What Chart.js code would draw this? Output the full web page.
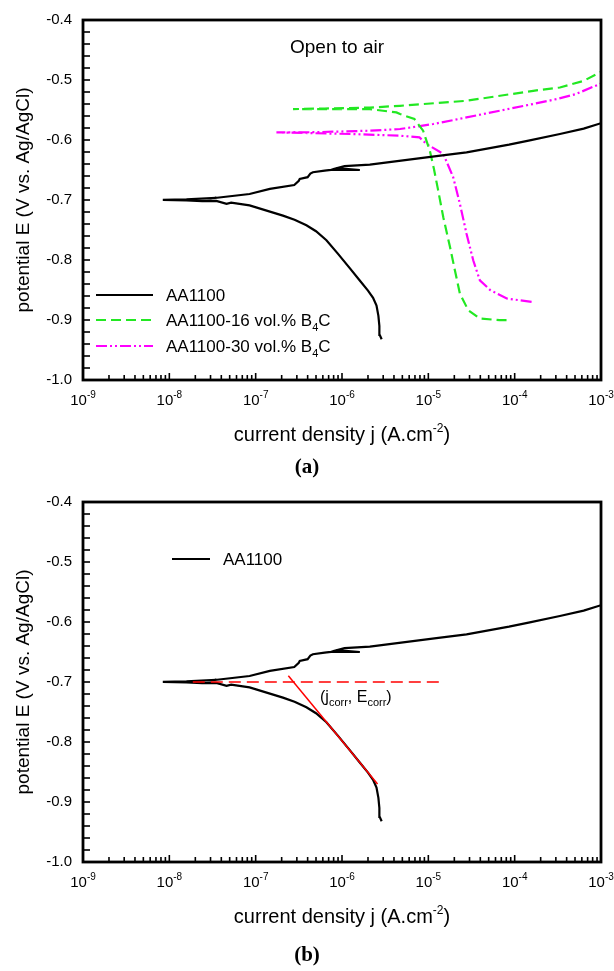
<!DOCTYPE html>
<html>
<head>
<meta charset="utf-8">
<script src="https://cdn.jsdelivr.net/npm/chart.js@4.4.1/dist/chart.umd.min.js"></script>
<style>
  html, body { margin: 0; padding: 0; background: #fff; }
  body { width: 614px; height: 971px; position: relative; overflow: hidden; }
  .panel { position: absolute; left: 0; width: 614px; height: 460px; }
  .caption {
    position: absolute; left: 0; width: 614px; text-align: center;
    font: bold 21px 'Liberation Serif', 'Times New Roman', serif; color: #000;
  }
</style>
</head>
<body>
<div class="panel" style="top:0"><canvas id="chartA" width="614" height="460"></canvas></div>
<div class="caption" style="top:454px">(a)</div>
<div class="panel" style="top:482px"><canvas id="chartB" width="614" height="460"></canvas></div>
<div class="caption" style="top:942px">(b)</div>
<script>
// current density j (A/cm2) and potential E (V vs Ag/AgCl)
// each curve: cathodic branch from its low end up to Ecorr, then the anodic branch
const aa1100J = [
  2.88e-6, 2.74e-6, 2.71e-6, 2.64e-6, 2.51e-6, 2.29e-6, 2.0e-6, 1.58e-6, 1.23e-6, 8.9e-7,
  6.6e-7, 5.0e-7, 3.87e-7, 2.82e-7, 2.07e-7, 8.5e-8, 5.2e-8, 4.6e-8, 3.5e-8, 2.4e-8,
  1.58e-8, 8.4e-9,
  1.58e-8, 3.5e-8, 3.0e-8, 8.5e-8, 1.46e-7, 2.8e-7, 3.16e-7, 3.24e-7, 4.0e-7, 4.3e-7,
  4.6e-7, 6.3e-7, 7.9e-7, 1.61e-6, 8.7e-7, 1.07e-6, 2.1e-6, 5.1e-6, 1.24e-5, 2.77e-5,
  8.6e-5, 1.45e-4, 3.34e-4, 6.3e-4, 1e-3,
]
const aa1100E = [
  -0.932, -0.925, -0.91, -0.893, -0.876, -0.863, -0.851, -0.833, -0.8135, -0.789,
  -0.767, -0.752, -0.742, -0.733, -0.726, -0.709, -0.7045, -0.7065, -0.7015, -0.702,
  -0.7005, -0.6997,
  -0.699, -0.6963, -0.6975, -0.69, -0.6814, -0.675, -0.668, -0.6648, -0.662, -0.656,
  -0.6538, -0.651, -0.6495, -0.65, -0.647, -0.6435, -0.641, -0.634, -0.627, -0.6205,
  -0.6078, -0.601, -0.59, -0.581, -0.572,
]

const b4c16J = [
  8.05e-5, 6.7e-5, 3.95e-5, 2.9e-5, 2.32e-5, 2.03e-5, 1.78e-5, 1.49e-5, 1.3e-5, 1.16e-5,
  1.04e-5, 9.5e-6, 8.7e-6, 6.9e-6, 4.7e-6, 4.27e-6, 2.1e-6, 2.71e-7,
  6.3e-7, 2.1e-6, 4.7e-6, 2.77e-5, 1.64e-4, 3.34e-4, 6.3e-4, 1e-3,
]
const b4c16E = [
  -0.9003, -0.9003, -0.8975, -0.8836, -0.856, -0.817, -0.778, -0.7286, -0.684, -0.648,
  -0.6177, -0.601, -0.5845, -0.565, -0.5568, -0.554, -0.5485, -0.5485,
  -0.5475, -0.546, -0.543, -0.5346, -0.518, -0.5125, -0.5014, -0.4864,
]

const b4c30J = [
  1.57e-4, 8.1e-5, 5.2e-5, 3.95e-5, 3.31e-5, 2.77e-5, 2.32e-5, 1.94e-5, 1.49e-5, 9.5e-6,
  7.9e-6, 4.7e-6, 1.26e-6, 1.74e-7,
  5.0e-7, 2.1e-6, 4.7e-6, 1.14e-5, 2.77e-5, 6.7e-5, 1.64e-4, 3.06e-4, 5.1e-4, 1e-3,
]
const b4c30E = [
  -0.8698, -0.8642, -0.85, -0.8338, -0.8005, -0.7562, -0.7063, -0.662, -0.6232, -0.6066,
  -0.5956, -0.5928, -0.59, -0.5873,
  -0.587, -0.5845, -0.5817, -0.5734, -0.5624, -0.5512, -0.54, -0.5318, -0.5235, -0.5058,
]

// Tafel construction in panel (b)
const ecorrLineJ = [1.87e-8, 1.4e-5]
const ecorrLineE = [-0.7, -0.7]
const tafelJ = [2.39e-7, 2.58e-6]
const tafelE = [-0.6897, -0.87]

const xTickExps = [-9, -8, -7, -6, -5, -4, -3]
const yTicks = [-1.0, -0.9, -0.8, -0.7, -0.6, -0.5, -0.4]

const FONT = "'Liberation Sans', Arial, sans-serif"

const toPoints = (js, es) => js.map((j, i) => ({ x: j, y: es[i] }))

function drawRich(ctx, parts, x, y, align = 'left') {
  let total = 0
  parts.forEach((p) => {
    ctx.font = `${p.size}px ${FONT}`
    p.w = ctx.measureText(p.text).width
    total += p.w
  })
  let cx = align === 'center' ? x - total / 2 : x
  ctx.textAlign = 'left'
  ctx.textBaseline = 'alphabetic'
  ctx.fillStyle = '#000'
  parts.forEach((p) => {
    ctx.font = `${p.size}px ${FONT}`
    ctx.fillText(p.text, cx, y + (p.dy || 0))
    cx += p.w
  })
}

function seg(ctx, x1, y1, x2, y2) {
  ctx.beginPath()
  ctx.moveTo(x1, y1)
  ctx.lineTo(x2, y2)
  ctx.stroke()
}

const framePlugin = {
  id: 'frame',
  afterDraw(chart) {
    const { ctx, chartArea: a, scales } = chart
    const x = scales.x
    const y = scales.y
    ctx.save()
    ctx.strokeStyle = '#000'
    ctx.setLineDash([])
    ctx.lineWidth = 1.6
    xTickExps.slice(0, -1).forEach((e) => {
      for (let m = 1; m < 10; m++) {
        const px = x.getPixelForValue(m * Math.pow(10, e))
        seg(ctx, px, a.bottom, px, a.bottom - (m === 1 ? 7 : 5))
      }
    })
    for (let i = 0; i <= 30; i++) {
      const py = y.getPixelForValue(-1 + i * 0.02)
      seg(ctx, a.left, py, a.left + 7, py)
    }
    ctx.lineWidth = 2.8
    ctx.strokeRect(a.left, a.top, a.right - a.left, a.bottom - a.top)

    xTickExps.forEach((e) => {
      const px = x.getPixelForValue(Math.pow(10, e))
      drawRich(ctx, [
        { text: '10', size: 15 },
        { text: String(e), size: 10, dy: -7 },
      ], px, a.bottom + 25, 'center')
    })
    drawRich(ctx, [
      { text: 'current density j (A.cm', size: 20 },
      { text: '-2', size: 12, dy: -9 },
      { text: ')', size: 20 },
    ], (a.left + a.right) / 2, a.bottom + 61, 'center')
    ctx.restore()
  },
}

function legendRow(ctx, ds, x1, x2, y, parts) {
  ctx.save()
  ctx.strokeStyle = ds.borderColor
  ctx.lineWidth = ds.borderWidth
  ctx.setLineDash(ds.borderDash || [])
  seg(ctx, x1, y, x2, y)
  ctx.restore()
  drawRich(ctx, parts, x2 + 13, y + 6)
}

const overlayA = {
  id: 'overlayA',
  afterDraw(chart) {
    const { ctx } = chart
    const ds = chart.data.datasets
    drawRich(ctx, [{ text: 'Open to air', size: 19 }], 337, 53, 'center')
    legendRow(ctx, ds[0], 96, 153, 295, [{ text: 'AA1100', size: 17 }])
    legendRow(ctx, ds[1], 96, 153, 320, [
      { text: 'AA1100-16 vol.% B', size: 17 },
      { text: '4', size: 11, dy: 5 },
      { text: 'C', size: 17 },
    ])
    legendRow(ctx, ds[2], 96, 153, 346, [
      { text: 'AA1100-30 vol.% B', size: 17 },
      { text: '4', size: 11, dy: 5 },
      { text: 'C', size: 17 },
    ])
  },
}

const overlayB = {
  id: 'overlayB',
  afterDraw(chart) {
    const { ctx } = chart
    legendRow(ctx, chart.data.datasets[0], 172, 210, 77, [{ text: 'AA1100', size: 17 }])
    drawRich(ctx, [
      { text: '(j', size: 16 },
      { text: 'corr', size: 11, dy: 4 },
      { text: ', E', size: 16 },
      { text: 'corr', size: 11, dy: 4 },
      { text: ')', size: 16 },
    ], 320, 220)
  },
}

const curve = (label, js, es, color, dash, width = 2.2, order = 0) => ({
  label,
  data: toPoints(js, es),
  showLine: true,
  borderColor: color,
  backgroundColor: color,
  borderWidth: width,
  borderDash: dash,
  pointRadius: 0,
  tension: 0,
  order,
})

function baseOptions() {
  return {
    responsive: false,
    animation: false,
    events: [],
    layout: { padding: { top: 19, right: 13, left: 0, bottom: 0 } },
    plugins: { legend: { display: false }, tooltip: { enabled: false } },
    scales: {
      x: {
        type: 'logarithmic',
        min: 1e-9,
        max: 1e-3,
        ticks: { display: false },
        grid: { display: false, drawTicks: false },
        border: { display: false },
        afterFit: (s) => { s.height = 80 },
      },
      y: {
        type: 'linear',
        min: -1.0,
        max: -0.4,
        afterBuildTicks: (s) => { s.ticks = yTicks.map((v) => ({ value: v })) },
        ticks: {
          color: '#000',
          font: { family: FONT, size: 15 },
          padding: 11,
          autoSkip: false,
          callback: (v) => Number(v).toFixed(1),
        },
        grid: { display: false, drawTicks: false },
        border: { display: false },
        title: {
          display: true,
          text: 'potential E (V vs. Ag/AgCl)',
          color: '#000',
          font: { family: FONT, size: 19 },
          padding: { top: 12, bottom: 0 },
        },
        afterFit: (s) => { s.width = 83 },
      },
    },
  }
}

new Chart(document.getElementById('chartA'), {
  type: 'scatter',
  data: {
    datasets: [
      curve('AA1100', aa1100J, aa1100E, '#000000', []),
      curve('AA1100-16 vol.% B4C', b4c16J, b4c16E, '#22e822', [10, 5]),
      curve('AA1100-30 vol.% B4C', b4c30J, b4c30E, '#ff00ff', [11, 3, 2, 3, 2, 3]),
    ],
  },
  options: baseOptions(),
  plugins: [framePlugin, overlayA],
})

// red construction lines sit on top of the black curve
new Chart(document.getElementById('chartB'), {
  type: 'scatter',
  data: {
    datasets: [
      curve('AA1100', aa1100J, aa1100E, '#000000', [], 2.2, 2),
      curve('Ecorr', ecorrLineJ, ecorrLineE, '#ff0000', [12, 6], 1.5, 1),
      curve('Tafel', tafelJ, tafelE, '#ff0000', [], 1.5, 0),
    ],
  },
  options: baseOptions(),
  plugins: [framePlugin, overlayB],
})
</script>
</body>
</html>
